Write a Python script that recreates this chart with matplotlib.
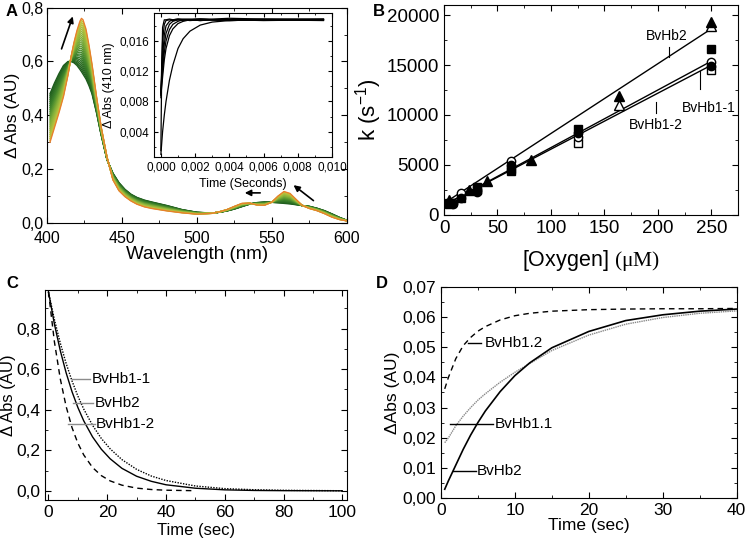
import matplotlib
matplotlib.use("Agg")
import matplotlib.pyplot as plt
from matplotlib.ticker import MultipleLocator, FuncFormatter
from matplotlib.colors import LinearSegmentedColormap

plt.rcParams['font.family'] = ['Liberation Sans', 'DejaVu Sans']
plt.rcParams['mathtext.fontset'] = 'custom'
plt.rcParams['mathtext.rm'] = 'Liberation Serif'
plt.rcParams['mathtext.default'] = 'regular'

# ---- panel A: spectra (start = green, end = orange) ----
wl = [402, 405, 408, 411, 414, 416, 418, 420, 422, 423, 424, 426, 428, 430, 433, 436,
      440, 444, 448, 452, 456, 460, 465, 470, 480, 490, 500, 510, 515, 520, 525, 530,
      535, 540, 545, 550, 554, 558, 562, 566, 570, 575, 580, 585, 590, 595, 600]
spec_start = [0.48, 0.52, 0.555, 0.585, 0.60, 0.60, 0.595, 0.585, 0.57, 0.562, 0.553,
              0.535, 0.51, 0.48, 0.41, 0.33, 0.235, 0.185, 0.15, 0.125, 0.107, 0.095,
              0.085, 0.078, 0.065, 0.050, 0.040, 0.037, 0.040, 0.045, 0.052, 0.061,
              0.070, 0.076, 0.078, 0.077, 0.075, 0.073, 0.071, 0.068, 0.065, 0.062,
              0.055, 0.046, 0.034, 0.021, 0.010]
spec_end = [0.30, 0.355, 0.41, 0.47, 0.55, 0.615, 0.67, 0.715, 0.75, 0.76, 0.755, 0.72,
            0.66, 0.59, 0.47, 0.36, 0.245, 0.16, 0.12, 0.098, 0.082, 0.070, 0.060, 0.054,
            0.045, 0.038, 0.033, 0.036, 0.042, 0.050, 0.062, 0.073, 0.074, 0.067, 0.066,
            0.078, 0.100, 0.117, 0.110, 0.088, 0.066, 0.054, 0.046, 0.035, 0.022, 0.013,
            0.008]
mix = [0.0, 0.04, 0.08, 0.12, 0.16, 0.2, 0.24, 0.28, 0.32, 0.36, 0.4, 0.44, 0.48, 0.52,
       0.56, 0.6, 0.64, 0.68, 0.72, 0.76, 0.8, 0.84, 0.88, 0.92, 0.96]

# inset kinetics at 410 nm
ins_t = [0, 0.00005, 0.0001, 0.0002, 0.0003, 0.0005, 0.0007, 0.001, 0.0013, 0.0017,
         0.0023, 0.003, 0.004, 0.006, 0.0095]
traces = [
    [0.0015, 0.0125, 0.0178, 0.0188, 0.0188, 0.0189, 0.0188, 0.0189, 0.0188, 0.0188, 0.0189, 0.0188, 0.0188, 0.0189, 0.0188],
    [0.0085, 0.0130, 0.0160, 0.0182, 0.0187, 0.0188, 0.0187, 0.0188, 0.0187, 0.0188, 0.0187, 0.0188, 0.0187, 0.0188, 0.0187],
    [0.0090, 0.0118, 0.0140, 0.0168, 0.0180, 0.0186, 0.0188, 0.0189, 0.0189, 0.0189, 0.0189, 0.0189, 0.0190, 0.0189, 0.0189],
    [0.0092, 0.0112, 0.0130, 0.0156, 0.0170, 0.0182, 0.0186, 0.0188, 0.0188, 0.0187, 0.0188, 0.0188, 0.0187, 0.0188, 0.0188],
    [0.0090, 0.0106, 0.0120, 0.0145, 0.0160, 0.0175, 0.0182, 0.0186, 0.0188, 0.0188, 0.0189, 0.0188, 0.0188, 0.0188, 0.0189],
    [0.0088, 0.0100, 0.0112, 0.0135, 0.0150, 0.0167, 0.0176, 0.0183, 0.0186, 0.0188, 0.0187, 0.0188, 0.0188, 0.0187, 0.0188],
    [0.0010, 0.0025, 0.0040, 0.0062, 0.0080, 0.0108, 0.0128, 0.0150, 0.0163, 0.0173, 0.0181, 0.0185, 0.0187, 0.0188, 0.0188],
]

# ---- panel B: rate constants vs [O2] ----
tri_f_x = [5, 23, 40, 81, 164, 250]
tri_f_y = [1450, 2500, 3400, 5500, 11900, 19300]
tri_o_x = [164, 250]
tri_o_y = [11000, 18950]
sq_f_x = [5, 31, 63, 125, 250]
sq_f_y = [1200, 2800, 4350, 8600, 16650]
sq_o_x = [5, 16, 31, 63, 125, 250]
sq_o_y = [1100, 1700, 2500, 4600, 7200, 14450]
ci_f_x = [8, 16, 31, 63, 125, 250]
ci_f_y = [1050, 1650, 2250, 4950, 8200, 14900]
ci_o_x = [8, 16, 31, 63, 125, 250]
ci_o_y = [1150, 2150, 2500, 5350, 7800, 15300]
fit_x = [3, 250]
fit_hb2 = [1380, 18620]
fit_hb11 = [1150, 14980]
fit_hb12 = [1150, 15380]

# ---- panel C: decay ----
c_t = [0, 2, 4, 6, 8, 10, 12, 15, 18, 21, 25, 30, 35, 40, 50, 60, 70, 80, 100]
c_hb11 = [0.98, 0.845, 0.729, 0.628, 0.542, 0.467, 0.403, 0.323, 0.258, 0.207, 0.154,
          0.106, 0.073, 0.051, 0.024, 0.011, 0.0055, 0.0027, 0.0006]
c_hb2 = [0.98, 0.823, 0.692, 0.582, 0.489, 0.411, 0.345, 0.266, 0.205, 0.158, 0.111,
         0.072, 0.047, 0.030, 0.013, 0.005, 0.002, 0.001, 0.0002]
c_t12 = [0, 2, 4, 6, 8, 10, 12, 15, 18, 21, 25, 30, 35, 40, 50]
c_hb12 = [0.98, 0.736, 0.553, 0.416, 0.312, 0.235, 0.177, 0.115, 0.075, 0.049, 0.028,
          0.0135, 0.0066, 0.0032, 0.0008]

# ---- panel D: rise ----
d_t = [0.5, 1, 2, 3, 4, 5, 6, 8, 10, 12, 15, 20, 25, 30, 35, 40]
d_hb12 = [0.0362, 0.0400, 0.0462, 0.0505, 0.0532, 0.0553, 0.0568, 0.0590, 0.0604,
          0.0612, 0.0619, 0.0624, 0.0626, 0.0627, 0.0627, 0.0628]
d_hb11 = [0.0184, 0.0200, 0.0240, 0.0272, 0.0300, 0.0325, 0.0346, 0.0384, 0.0417,
          0.0446, 0.0489, 0.0540, 0.0576, 0.0598, 0.0612, 0.0620]
d_hb2 = [0.0030, 0.0058, 0.0110, 0.0162, 0.0209, 0.0251, 0.0289, 0.0353, 0.0406,
         0.0448, 0.0498, 0.0552, 0.0588, 0.0607, 0.0619, 0.0626]


def comma(fmt):
    return FuncFormatter(lambda v, p: (fmt % v).replace('.', ','))


def style(ax, fs=11):
    ax.tick_params(which='both', direction='in', top=True, right=True, labelsize=fs)
    ax.tick_params(which='major', length=4)
    ax.tick_params(which='minor', length=2)


fig = plt.figure(figsize=(7.47, 5.44), dpi=100)

# Panel A
axA = fig.add_axes([0.0629, 0.590, 0.4016, 0.396])
cmap = LinearSegmentedColormap.from_list('g', ['#1d5a1d', '#3f842b', '#86b23a', '#c9c63e'])
for f in mix:
    y = [(1 - f) * a + f * b for a, b in zip(spec_start, spec_end)]
    axA.plot(wl, y, color=cmap(f), lw=1.0)
axA.plot(wl, spec_end, color='#e8802c', lw=1.0)
axA.set_xlim(400, 600)
axA.set_ylim(0, 0.8)
axA.xaxis.set_major_locator(MultipleLocator(50))
axA.xaxis.set_minor_locator(MultipleLocator(25))
axA.yaxis.set_major_locator(MultipleLocator(0.2))
axA.yaxis.set_minor_locator(MultipleLocator(0.1))
axA.yaxis.set_major_formatter(comma('%.1f'))
style(axA, 11.5)
axA.tick_params(axis='x', pad=6)
axA.tick_params(axis='y', pad=2.5)
axA.set_xlabel('Wavelength (nm)', fontsize=13.5, labelpad=0)
axA.set_ylabel('Δ Abs (AU)', fontsize=12.5, labelpad=1)
arrow = dict(arrowstyle='-|>', color='black', lw=1.2, mutation_scale=9)
axA.annotate('', xy=(417.8, 0.777), xytext=(409.1, 0.637), arrowprops=arrow)
axA.annotate('', xy=(530, 0.112), xytext=(544, 0.112), arrowprops=arrow)
axA.annotate('', xy=(562.9, 0.147), xytext=(579.1, 0.077), arrowprops=arrow)

axI = fig.add_axes([0.2062, 0.7114, 0.2383, 0.2647])
for tr in traces:
    axI.plot(ins_t, tr, color='black', lw=0.9)
axI.set_xlim(-0.0004, 0.01)
axI.set_ylim(0.00065, 0.0197)
axI.xaxis.set_major_locator(MultipleLocator(0.002))
axI.xaxis.set_minor_locator(MultipleLocator(0.001))
axI.yaxis.set_major_locator(MultipleLocator(0.004))
axI.yaxis.set_minor_locator(MultipleLocator(0.002))
axI.xaxis.set_major_formatter(comma('%.3f'))
axI.yaxis.set_major_formatter(comma('%.3f'))
style(axI, 8.5)
axI.tick_params(which='major', length=3)
axI.tick_params(which='minor', length=1.5)
axI.set_xlabel('Time (Seconds)', fontsize=9, labelpad=3)
axI.set_ylabel('Δ Abs (410 nm)', fontsize=9, labelpad=3)

# Panel B
axB = fig.add_axes([0.5944, 0.6048, 0.3936, 0.386])
axB.plot(fit_x, fit_hb2, color='black', lw=1.0)
axB.plot(fit_x, fit_hb11, color='black', lw=1.0)
axB.plot(fit_x, fit_hb12, color='black', lw=1.0)
ms = 6
axB.plot(sq_o_x, sq_o_y, 's', ms=ms, mfc='white', mec='black')
axB.plot(ci_o_x, ci_o_y, 'o', ms=ms, mfc='white', mec='black')
axB.plot(tri_o_x, tri_o_y, '^', ms=ms + 1, mfc='white', mec='black')
axB.plot(sq_f_x, sq_f_y, 's', ms=ms, color='black')
axB.plot(ci_f_x, ci_f_y, 'o', ms=ms, color='black')
axB.plot(tri_f_x, tri_f_y, '^', ms=ms + 1, color='black')
axB.set_xlim(0, 275)
axB.set_ylim(0, 21000)
axB.xaxis.set_major_locator(MultipleLocator(50))
axB.xaxis.set_minor_locator(MultipleLocator(25))
axB.yaxis.set_major_locator(MultipleLocator(5000))
axB.yaxis.set_minor_locator(MultipleLocator(2500))
style(axB, 13.5)
axB.set_xlabel(r'[Oxygen] $\mathrm{(\mu M)}$', fontsize=15.5, labelpad=8)
axB.set_ylabel(r'k (s$^{-1}$)', fontsize=16, labelpad=2)
axB.plot([210, 210], [15830, 16800], color='black', lw=0.8)
axB.text(208, 17950, 'BvHb2', fontsize=10, ha='center', va='center')
axB.plot([198, 198], [11250, 10150], color='black', lw=0.8)
axB.text(198, 8950, 'BvHb1-2', fontsize=10, ha='center', va='center')
axB.plot([239, 239], [14350, 12550], color='black', lw=0.8)
axB.text(248, 10700, 'BvHb1-1', fontsize=10, ha='center', va='center')

# Panel C
axC = fig.add_axes([0.0602, 0.0809, 0.4039, 0.386])
axC.plot(c_t, c_hb11, color='black', lw=1.0, ls=(0, (1, 1)))
axC.plot(c_t, c_hb2, color='black', lw=1.0)
axC.plot(c_t12, c_hb12, color='black', lw=1.0, ls=(0, (4, 3)))
axC.set_xlim(-1.2, 101.5)
axC.set_ylim(-0.045, 0.99)
axC.xaxis.set_major_locator(MultipleLocator(20))
axC.xaxis.set_minor_locator(MultipleLocator(10))
axC.yaxis.set_major_locator(MultipleLocator(0.2))
axC.yaxis.set_minor_locator(MultipleLocator(0.1))
axC.yaxis.set_major_formatter(comma('%.1f'))
style(axC, 12.5)
axC.set_xlabel('Time (sec)', fontsize=12, labelpad=2)
axC.set_ylabel('Δ Abs (AU)', fontsize=12, labelpad=0)
gray = '#8c8c8c'
axC.plot([7.9, 14.1], [0.55, 0.55], color=gray, lw=1.0)
axC.text(14.6, 0.55, 'BvHb1-1', fontsize=11, va='center')
axC.plot([8.5, 15.3], [0.433, 0.433], color=gray, lw=1.0)
axC.text(15.6, 0.433, 'BvHb2', fontsize=11, va='center')
axC.plot([6.8, 15.9], [0.332, 0.332], color=gray, lw=1.0)
axC.text(16.2, 0.332, 'BvHb1-2', fontsize=11, va='center')

# Panel D
axD = fig.add_axes([0.5904, 0.084, 0.3958, 0.389])
axD.plot(d_t, d_hb12, color='black', lw=1.0, ls=(0, (4, 3)))
axD.plot(d_t, d_hb11, color='#888888', lw=1.0, ls=(0, (1, 0.6)))
axD.plot(d_t, d_hb2, color='black', lw=1.2)
axD.set_xlim(0, 40)
axD.set_ylim(0, 0.07)
axD.xaxis.set_major_locator(MultipleLocator(10))
axD.xaxis.set_minor_locator(MultipleLocator(5))
axD.yaxis.set_major_locator(MultipleLocator(0.01))
axD.yaxis.set_minor_locator(MultipleLocator(0.005))
axD.yaxis.set_major_formatter(comma('%.2f'))
style(axD, 12.5)
axD.set_xlabel('Time (sec)', fontsize=12.5, labelpad=0)
axD.set_ylabel('ΔAbs (AU)', fontsize=12.5, labelpad=2)
axD.plot([3.7, 5.4], [0.0513, 0.0513], color='black', lw=1.0)
axD.text(5.9, 0.0513, 'BvHb1.2', fontsize=11, va='center')
axD.plot([1.2, 7.0], [0.0245, 0.0245], color='black', lw=1.0)
axD.text(7.3, 0.0245, 'BvHb1.1', fontsize=11, va='center')
axD.plot([1.66, 4.7], [0.0090, 0.0090], color='black', lw=1.0)
axD.text(4.9, 0.0090, 'BvHb2', fontsize=11, va='center')

for lab, x, y in [('A', 0.008, 0.978), ('B', 0.499, 0.978), ('C', 0.008, 0.478), ('D', 0.503, 0.478)]:
    fig.text(x, y, lab, fontsize=12, fontweight='bold', ha='left', va='center')

fig.savefig('out.png', dpi=100)
